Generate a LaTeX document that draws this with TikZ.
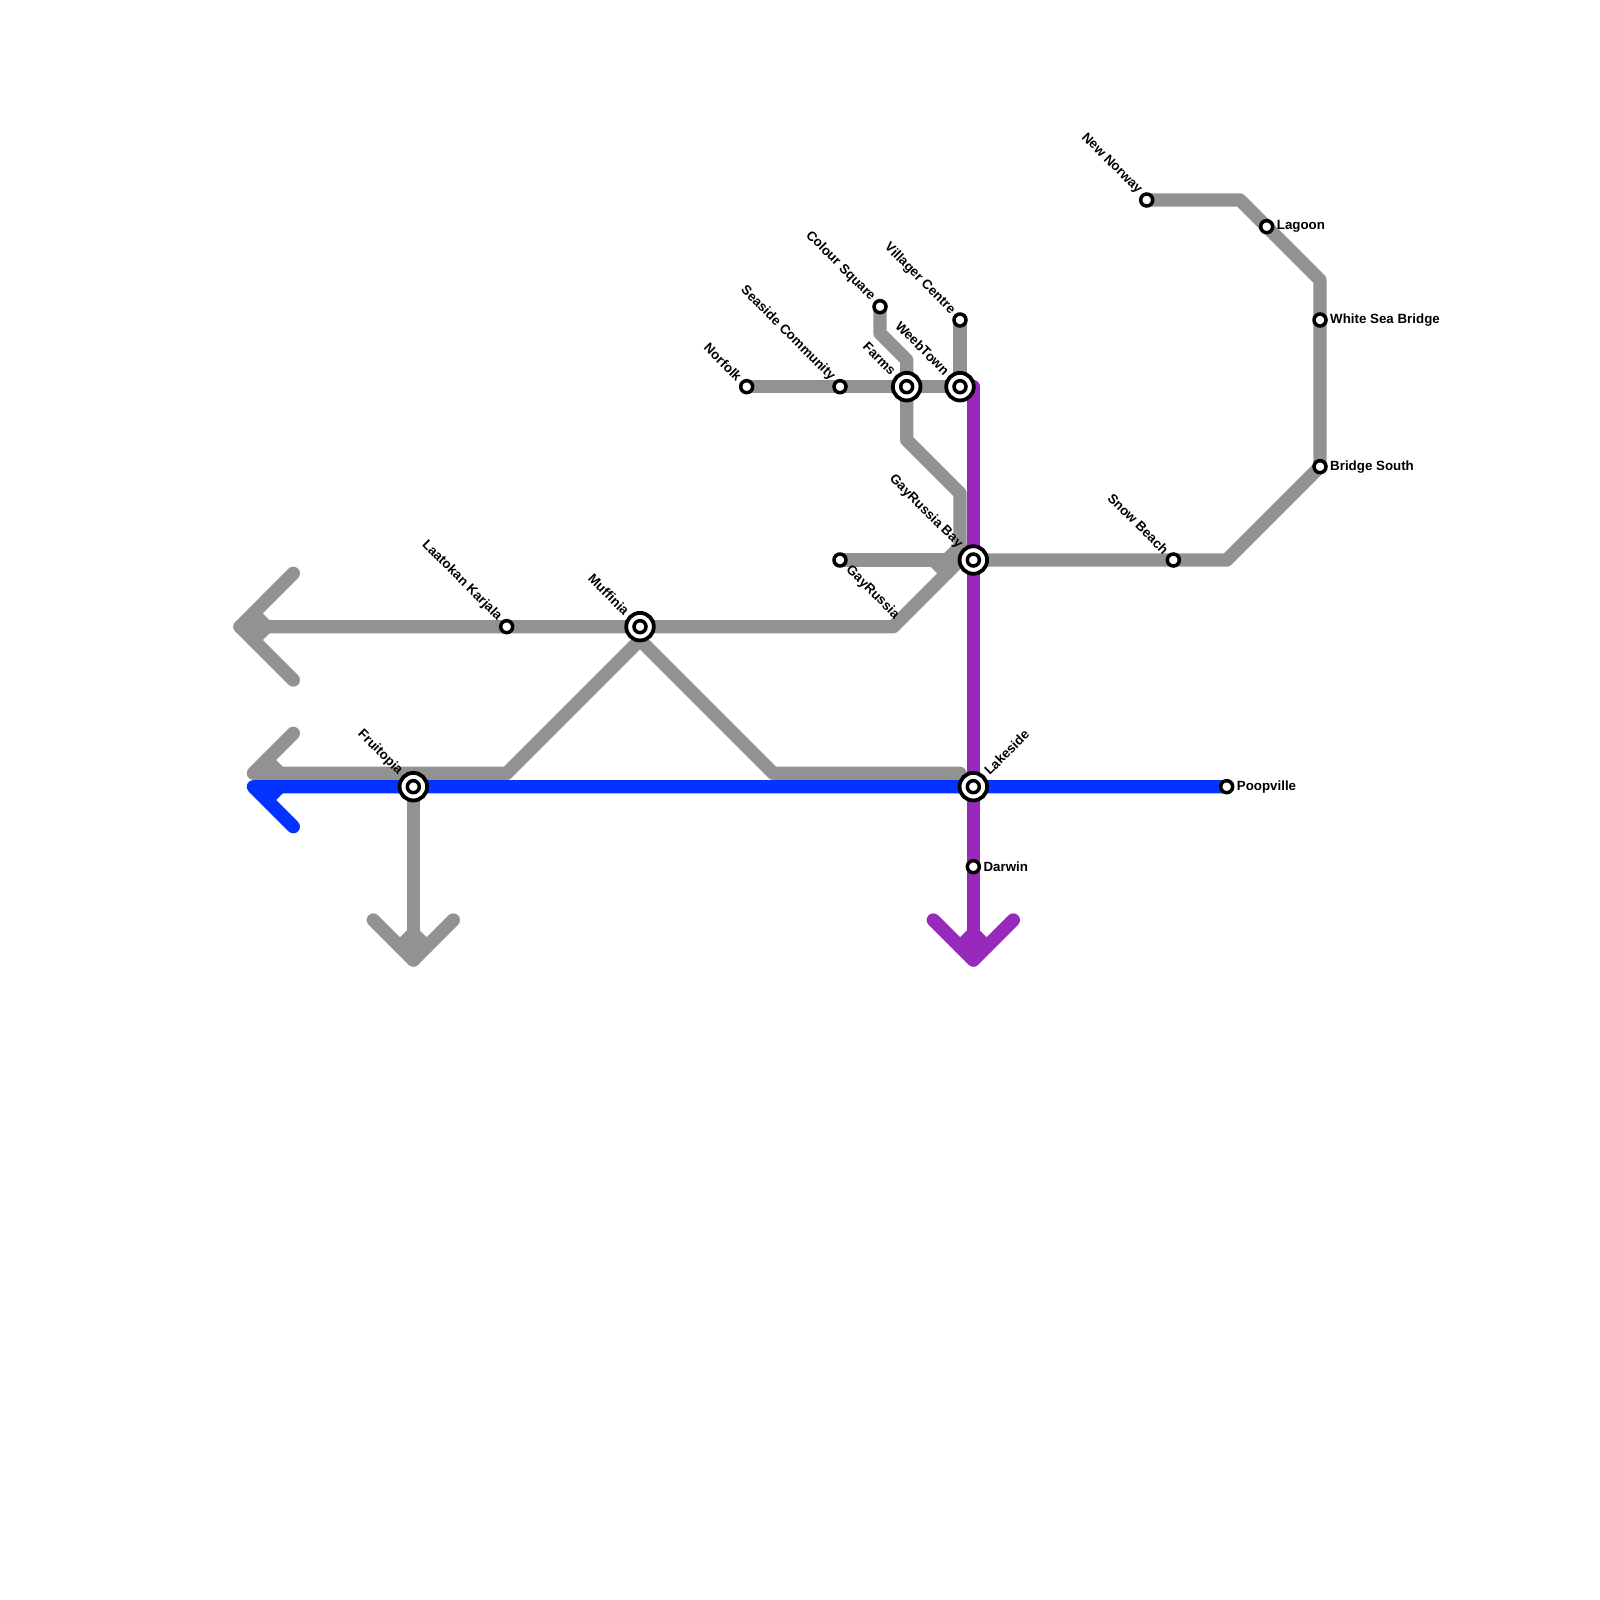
\documentclass[tikz,border=0pt]{standalone}
\usepackage{fontspec}
\setmainfont{Liberation Sans}
\definecolor{lgrey}{HTML}{929292}
\definecolor{lblue}{HTML}{0433FF}
\definecolor{lpurple}{HTML}{9929BD}
\tikzset{
  metro/.style={line width=13.33pt,line cap=round,line join=round},
  greyline/.style={metro,draw=lgrey},
  blueline/.style={metro,draw=lblue},
  purpleline/.style={metro,draw=lpurple},
  stn/.style={circle,draw=black,fill=white,line width=3.5pt,minimum size=12pt,inner sep=0pt,outer sep=0pt},
  xchange/.style={circle,draw=black,fill=white,line width=3.8pt,minimum size=27.6pt,inner sep=0pt,outer sep=0pt},
  lbl/.style={font=\fontsize{13.33}{15}\selectfont\bfseries,text=black,inner sep=0pt},
  ul/.style={lbl,rotate=-45,anchor=east},
  ur/.style={lbl,rotate=45,anchor=west},
  dr/.style={lbl,rotate=-45,anchor=west},
  rt/.style={lbl,anchor=west},
}
\begin{document}
\begin{tikzpicture}[x=1pt,y=-1pt]
\useasboundingbox[fill=white] (0,0) rectangle (1600,1600);
% station positions
\coordinate (pNorfolk) at (746.67,386.67);
\coordinate (pSeaside) at (840,386.67);
\coordinate (pFarms) at (906.67,386.67);
\coordinate (pWeeb) at (960,386.67);
\coordinate (pColour) at (880,306.67);
\coordinate (pVillager) at (960,320);
\coordinate (pGay) at (840,560);
\coordinate (pBay) at (973.33,560);
\coordinate (pLake) at (973.33,786.67);
\coordinate (pDarwin) at (973.33,866.67);
\coordinate (pFruit) at (413.33,786.67);
\coordinate (pMuff) at (640,626.67);
\coordinate (pLaat) at (506.67,626.67);
\coordinate (pPoop) at (1226.67,786.67);
\coordinate (pSnow) at (1173.33,560);
\coordinate (pBridge) at (1320,466.67);
\coordinate (pWhite) at (1320,320);
\coordinate (pLagoon) at (1266.67,226.67);
\coordinate (pNorway) at (1146.67,200);
% grey lines
\draw[greyline] (pNorway) -- (1240,200) -- (pLagoon) -- (1320,280) -- (pWhite) -- (pBridge) -- (1226.67,560) -- (pSnow) -- (pBay);
\draw[greyline] (pNorfolk) -- (pSeaside) -- (pFarms) -- (pWeeb);
\draw[greyline] (pVillager) -- (pWeeb);
\draw[greyline] (pColour) -- (880,333.33) -- (906.67,360) -- (pFarms) -- (906.67,440) -- (960,493.33) -- (960,546.67) -- (946.67,560);
\draw[greyline] (pGay) -- (946.67,560);
\draw[greyline] (933.33,560) -- (946.67,573.33);
\draw[greyline] (973.33,546.67) -- (893.33,626.67) -- (pMuff) -- (pLaat) -- (240,626.67);
\draw[greyline] (293.33,573.33) -- (240,626.67) -- (293.33,680);
\draw[greyline] (253.33,613.33) -- (266.67,626.67) -- (253.33,640);
\draw[greyline] (293.33,733.33) -- (253.33,773.33) -- (506.67,773.33) -- (640,640) -- (pMuff);
\draw[greyline] (266.67,760) -- (280,773.33);
\draw[greyline] (640,640) -- (773.33,773.33) -- (960,773.33);
\draw[greyline] (pFruit) -- (413.33,960);
\draw[greyline] (373.33,920) -- (413.33,960) -- (453.33,920);
\draw[greyline] (400,946.67) -- (413.33,933.33) -- (426.67,946.67);
% purple line
\draw[purpleline] (973.33,386.67) -- (pBay) -- (pLake) -- (pDarwin) -- (973.33,960);
\draw[purpleline] (933.33,920) -- (973.33,960) -- (1013.33,920);
\draw[purpleline] (960,946.67) -- (973.33,933.33) -- (986.67,946.67);
% blue line
\draw[blueline] (pPoop) -- (pLake) -- (pFruit) -- (253.33,786.67) -- (293.33,826.67);
\draw[blueline] (266.67,800) -- (280,786.67);
% stations
\node[stn] (norfolk) at (pNorfolk) {};
\node[stn] (seaside) at (pSeaside) {};
\node[stn] (colour) at (pColour) {};
\node[stn] (villager) at (pVillager) {};
\node[stn] (gay) at (pGay) {};
\node[stn] (darwin) at (pDarwin) {};
\node[stn] (laat) at (pLaat) {};
\node[stn] (poop) at (pPoop) {};
\node[stn] (snow) at (pSnow) {};
\node[stn] (bridge) at (pBridge) {};
\node[stn] (white) at (pWhite) {};
\node[stn] (lagoon) at (pLagoon) {};
\node[stn] (norway) at (pNorway) {};
\node[xchange] (farmsO) at (pFarms) {};
\node[stn] (farmsI) at (pFarms) {};
\node[xchange] (weebO) at (pWeeb) {};
\node[stn] (weebI) at (pWeeb) {};
\node[xchange] (bayO) at (pBay) {};
\node[stn] (bayI) at (pBay) {};
\node[xchange] (lakeO) at (pLake) {};
\node[stn] (lakeI) at (pLake) {};
\node[xchange] (fruitO) at (pFruit) {};
\node[stn] (fruitI) at (pFruit) {};
\node[xchange] (muffO) at (pMuff) {};
\node[stn] (muffI) at (pMuff) {};
% labels
\node[ul] (tNorfolk) at ([shift={(-7,-8)}]pNorfolk) {Norfolk};
\node[ul] (tSeaside) at ([shift={(-7,-8)}]pSeaside) {Seaside Community};
\node[ul] (tColour) at ([shift={(-7,-8)}]pColour) {Colour Square};
\node[ul] (tVillager) at ([shift={(-7,-8)}]pVillager) {Villager Centre};
\node[ul] (tNorway) at ([shift={(-7,-8)}]pNorway) {New Norway};
\node[ul] (tSnow) at ([shift={(-7,-8)}]pSnow) {Snow Beach};
\node[ul] (tLaat) at ([shift={(-7,-8)}]pLaat) {Laatokan Karjala};
\node[ul] (tFarms) at ([shift={(-13,-14)}]pFarms) {Farms};
\node[ul] (tWeeb) at ([shift={(-13,-14)}]pWeeb) {WeebTown};
\node[ul] (tBay) at ([shift={(-13,-14)}]pBay) {GayRussia Bay};
\node[ul] (tMuff) at ([shift={(-13,-14)}]pMuff) {Muffinia};
\node[ul] (tFruit) at ([shift={(-13,-14)}]pFruit) {Fruitopia};
\node[ur] (tLake) at ([shift={(13,-14)}]pLake) {Lakeside};
\node[dr] (tGay) at ([shift={(8,8)}]pGay) {GayRussia};
\node[rt] (tDarwin) at ([shift={(10,0)}]pDarwin) {Darwin};
\node[rt] (tPoop) at ([shift={(10,0)}]pPoop) {Poopville};
\node[rt] (tBridge) at ([shift={(10,0)}]pBridge) {Bridge South};
\node[rt] (tWhite) at ([shift={(10,0)}]pWhite) {White Sea Bridge};
\node[rt] (tLagoon) at ([shift={(10,0)}]pLagoon) {Lagoon};
\end{tikzpicture}
\end{document}
